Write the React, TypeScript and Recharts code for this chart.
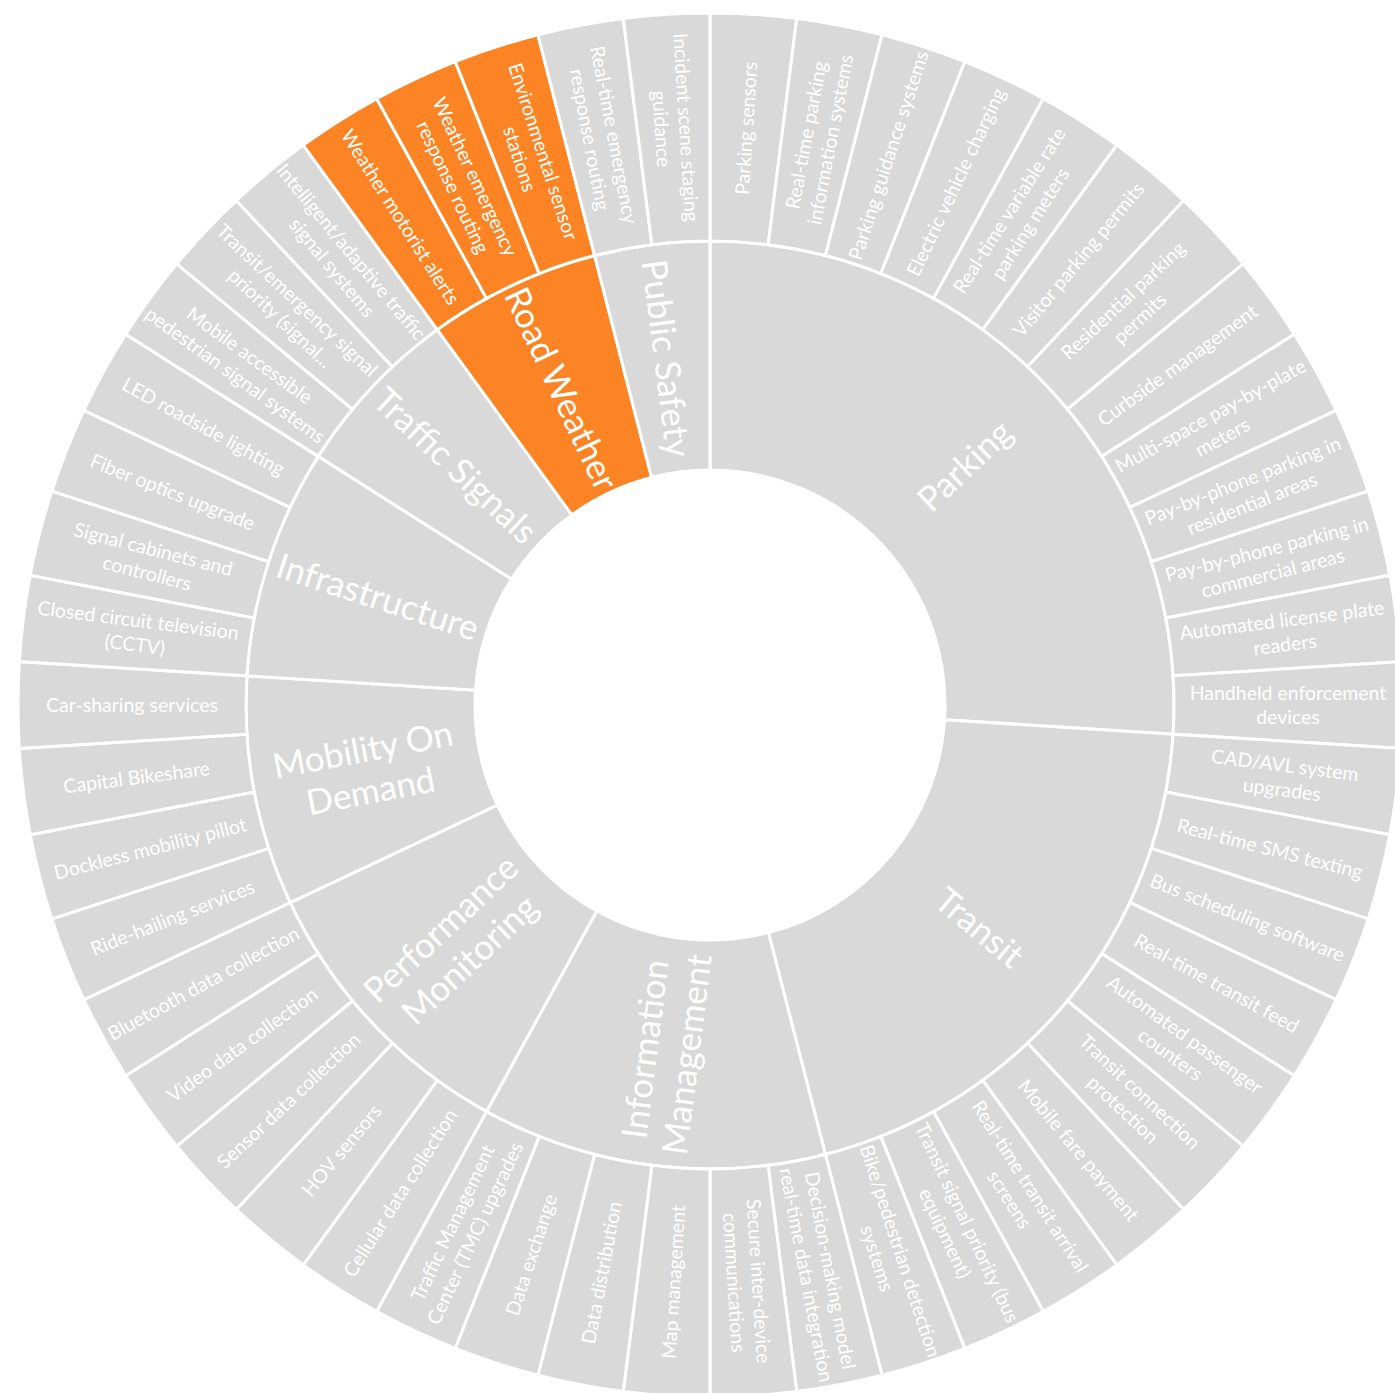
import React from 'react';
import { PieChart, Pie, Cell } from 'recharts';

// Categories (inner ring), clockwise from 12 o'clock
const categoryLabels = [
  'Parking',
  'Transit',
  'Information\nManagement',
  'Performance\nMonitoring',
  'Mobility On\nDemand',
  'Infrastructure',
  'Traffic Signals',
  'Road Weather',
  'Public Safety',
];
const highlightedCategory = 'Road Weather';

// Leaves (outer ring), clockwise within each category
const parkingLeaves = [
  'Parking sensors',
  'Real-time parking\ninformation systems',
  'Parking guidance systems',
  'Electric vehicle charging',
  'Real-time variable rate\nparking meters',
  'Visitor parking permits',
  'Residential parking\npermits',
  'Curbside management',
  'Multi-space pay-by-plate\nmeters',
  'Pay-by-phone parking in\nresidential areas',
  'Pay-by-phone parking in\ncommercial areas',
  'Automated license plate\nreaders',
  'Handheld enforcement\ndevices',
];
const transitLeaves = [
  'CAD/AVL system\nupgrades',
  'Real-time SMS texting',
  'Bus scheduling software',
  'Real-time transit feed',
  'Automated passenger\ncounters',
  'Transit connection\nprotection',
  'Mobile fare payment',
  'Real-time transit arrival\nscreens',
  'Transit signal priority (bus\nequipment)',
  'Bike/pedestrian detection\nsystems',
];
const infoLeaves = [
  'Decision-making model\nreal-time data integration',
  'Secure inter-device\ncommunications',
  'Map management',
  'Data distribution',
  'Data exchange',
  'Traffic Management\nCenter (TMC) upgrades',
];
const perfLeaves = [
  'Cellular data collection',
  'HOV sensors',
  'Sensor data collection',
  'Video data collection',
  'Bluetooth data collection',
];
const mobilityLeaves = [
  'Ride-hailing services',
  'Dockless mobility pillot',
  'Capital Bikeshare',
  'Car-sharing services',
];
const infraLeaves = [
  'Closed circuit television\n(CCTV)',
  'Signal cabinets and\ncontrollers',
  'Fiber optics upgrade',
  'LED roadside lighting',
];
const signalLeaves = [
  'Mobile accessible\npedestrian signal systems',
  'Transit/emergency signal\npriority (signal...',
  'Intelligent/adaptive traffic\nsignal systems',
];
const weatherLeaves = [
  'Weather motorist alerts',
  'Weather emergency\nresponse routing',
  'Environmental sensor\nstations',
];
const safetyLeaves = [
  'Real-time emergency\nresponse routing',
  'Incident scene staging\nguidance',
];

const leafGroups = [
  parkingLeaves,
  transitLeaves,
  infoLeaves,
  perfLeaves,
  mobilityLeaves,
  infraLeaves,
  signalLeaves,
  weatherLeaves,
  safetyLeaves,
];
// every leaf counts once
const leafValue = 1;

const GRAY = '#D9D9D9';
const ORANGE = '#FD8424';

const outerData = leafGroups.flatMap((group, gi) =>
  group.map((label) => ({
    name: label.replace('\n', ' '),
    label,
    value: leafValue,
    category: categoryLabels[gi],
  }))
);
const innerData = categoryLabels.map((label, gi) => ({
  name: label.replace('\n', ' '),
  label,
  value: leafGroups[gi].length * leafValue,
  category: label,
}));

const RAD = Math.PI / 180;
const FONT = 'Lato, "Noto Sans", sans-serif';

function makeLabel(fontSize: number, lineHeight: number) {
  return (props: any) => {
    const { cx, cy, midAngle, innerRadius, outerRadius } = props;
    const label: string = (props.payload && props.payload.label) || props.label || props.name;
    const r = (innerRadius + outerRadius) / 2;
    const x = cx + r * Math.cos(-midAngle * RAD);
    const y = cy + r * Math.sin(-midAngle * RAD);
    const a = ((midAngle % 360) + 360) % 360;
    const rot = a <= 90 || a >= 270 ? -a : 180 - a;
    const lines = String(label).split('\n');
    const first = -((lines.length - 1) / 2) * lineHeight + 0.35 * fontSize;
    return (
      <text
        x={x}
        y={y}
        transform={`rotate(${rot} ${x} ${y})`}
        textAnchor="middle"
        fill="#FFFFFF"
        fontSize={fontSize}
        fontFamily={FONT}
      >
        {lines.map((l, i) => (
          <tspan key={i} x={x} dy={i === 0 ? first : lineHeight}>
            {l}
          </tspan>
        ))}
      </text>
    );
  };
}

export default function App() {
  return (
    <div
      style={{
        position: 'absolute',
        left: 0,
        top: 0,
        width: 1395,
        height: 1393,
        overflow: 'hidden',
        background: '#fff',
      }}
    >
      <PieChart width={1395} height={1393} margin={{ top: 0, right: 0, bottom: 0, left: 0 }}>
        <Pie
          data={innerData}
          dataKey="value"
          nameKey="name"
          cx={710}
          cy={705}
          innerRadius={235}
          outerRadius={464}
          startAngle={90}
          endAngle={-270}
          stroke="#FFFFFF"
          strokeWidth={3}
          isAnimationActive={false}
          labelLine={false}
          label={makeLabel(35, 42)}
        >
          {innerData.map((d, i) => (
            <Cell key={i} fill={d.category === highlightedCategory ? ORANGE : GRAY} stroke="#FFFFFF" strokeWidth={3} />
          ))}
        </Pie>
        <Pie
          data={outerData}
          dataKey="value"
          nameKey="name"
          cx={710}
          cy={705}
          innerRadius={464}
          outerRadius={692}
          startAngle={90}
          endAngle={-270}
          stroke="#FFFFFF"
          strokeWidth={3}
          isAnimationActive={false}
          labelLine={false}
          label={makeLabel(19.5, 24.5)}
        >
          {outerData.map((d, i) => (
            <Cell key={i} fill={d.category === highlightedCategory ? ORANGE : GRAY} stroke="#FFFFFF" strokeWidth={3} />
          ))}
        </Pie>
      </PieChart>
    </div>
  );
}
